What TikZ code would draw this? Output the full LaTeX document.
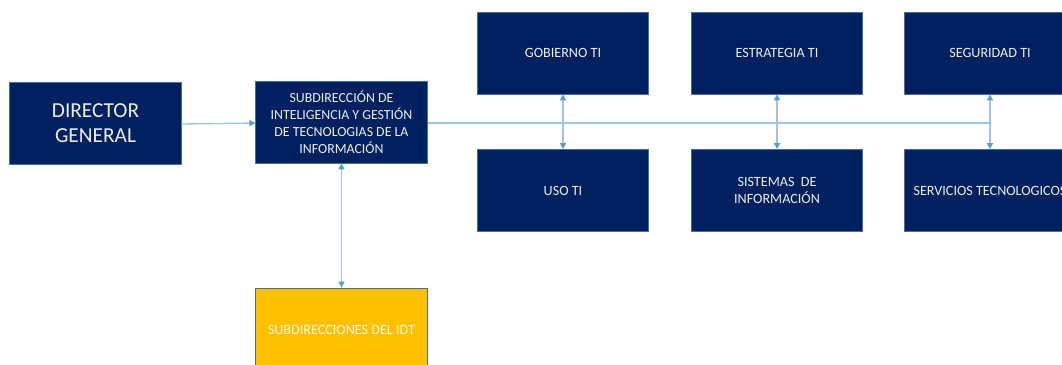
\documentclass[tikz,border=0pt]{standalone}
\usepackage{fontspec}
\setmainfont{Carlito}
\usetikzlibrary{arrows.meta}
\definecolor{navy}{HTML}{002060}
\definecolor{edge}{HTML}{41719C}
\definecolor{gold}{HTML}{FFC000}
\definecolor{conn}{HTML}{9DC3E6}
\definecolor{tip}{HTML}{5B9BD5}
\tikzset{
  box/.style={draw=edge, line width=0.6pt, fill=navy, text=white!93!navy, minimum width=128.5pt, minimum height=61.5pt, align=center, inner sep=2pt, font=\fontsize{10.6}{13}\selectfont},
  ybox/.style={box, fill=gold, text=white!90!gold},
  link/.style={draw=conn, line width=1pt},
  arr/.style={link, -{Triangle[length=4.5pt,width=4.5pt,color=tip]}},
  darr/.style={link, {Triangle[length=4.5pt,width=4.5pt,color=tip]}-{Triangle[length=4.5pt,width=4.5pt,color=tip]}}
}
\begin{document}
\begin{tikzpicture}[x=0.75pt,y=-0.75pt]
\useasboundingbox (0,0) rectangle (1062,364);
\begin{scope}
\clip (0,0) rectangle (1062,364);
\node[box, font=\fontsize{16}{19}\selectfont] (dir) at (95.5,123) {DIRECTOR\\GENERAL};
\node[box, font=\fontsize{10.4}{12.8}\selectfont] (sub) at (341.5,122) {SUBDIRECCIÓN DE\\INTELIGENCIA Y GESTIÓN\\DE TECNOLOGIAS DE LA\\INFORMACIÓN};
\node[box] (gob) at (563,53) {GOBIERNO TI};
\node[box] (uso) at (563,190.5) {USO TI};
\node[box] (est) at (777,53) {ESTRATEGIA TI};
\node[box] (sis) at (777,190.5) {SISTEMAS\ \ DE\\INFORMACIÓN};
\node[box] (seg) at (990,53) {SEGURIDAD TI};
\node[box] (ser) at (990,190.5) {SERVICIOS TECNOLOGICOS};
\node[ybox, minimum height=63pt] (idt) at (341.5,330) {SUBDIRECCIONES DEL IDT};
\coordinate (junc) at (990,123);
\draw[arr] (dir.east) ++(0,1) -- (sub.west |- 0,123);
\draw[link] (sub.east |- junc) -- (junc);
\draw[darr] (gob.south) -- (uso.north);
\draw[darr] (est.south) -- (sis.north);
\draw[darr] (seg.south) -- (ser.north);
\draw[darr] (sub.south) -- (idt.north);
\end{scope}
\end{tikzpicture}
\end{document}
